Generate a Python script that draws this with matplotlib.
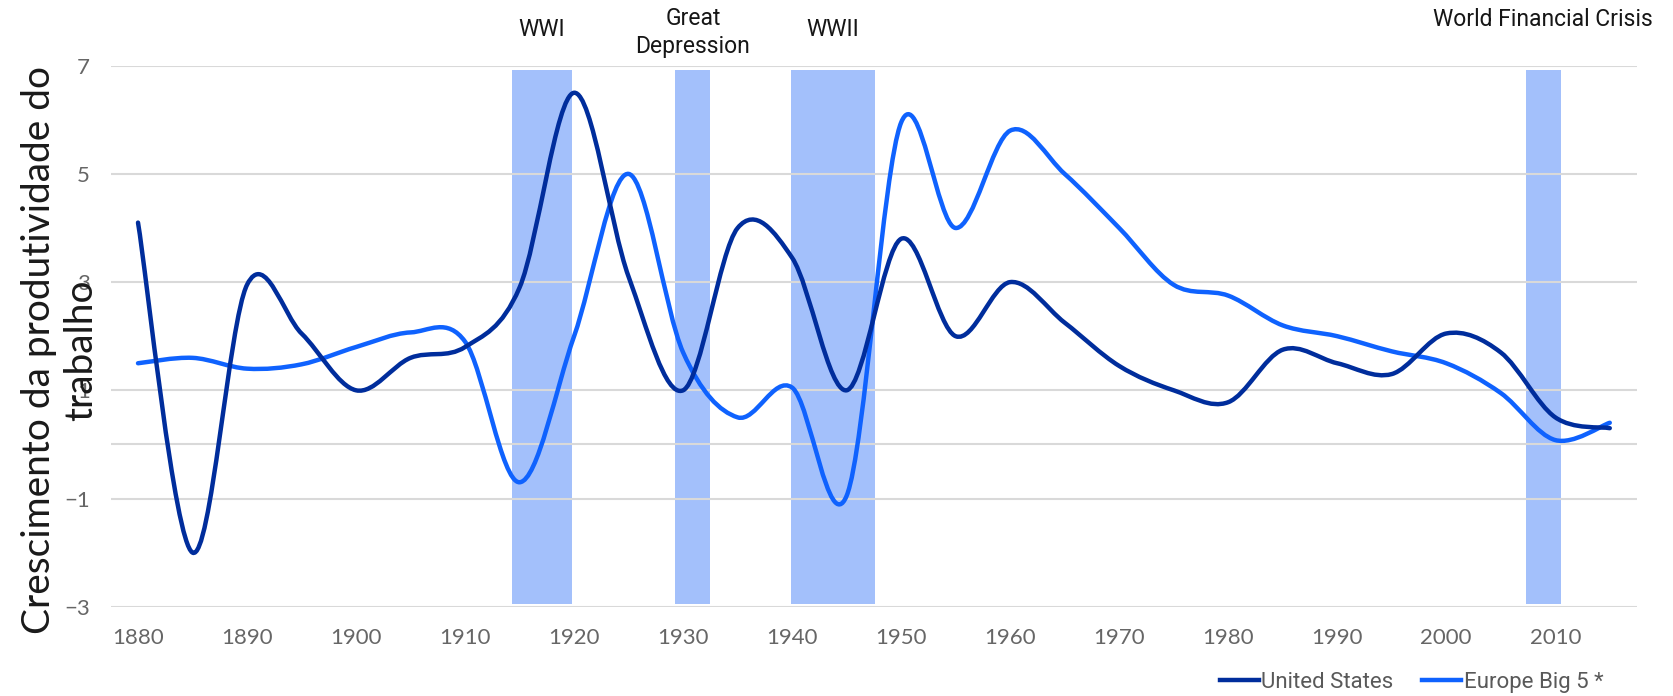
import matplotlib
matplotlib.use("Agg")
import matplotlib.pyplot as plt
from matplotlib.path import Path
from matplotlib.patches import PathPatch
from matplotlib.lines import Line2D

# dados (pontos a cada 5 anos)
anos = [1880, 1885, 1890, 1895, 1900, 1905, 1910, 1915, 1920, 1925, 1930, 1935, 1940, 1945,
        1950, 1955, 1960, 1965, 1970, 1975, 1980, 1985, 1990, 1995, 2000, 2005, 2010, 2015]
estados_unidos = [4.1, -2.0, 2.95, 2.05, 1.0, 1.6, 1.8, 2.9, 6.5, 3.1, 1.0, 4.0, 3.45, 1.0,
                  3.8, 2.0, 3.0, 2.25, 1.45, 1.0, 0.78, 1.75, 1.5, 1.3, 2.05, 1.7, 0.5, 0.3]
europa_big5 = [1.5, 1.6, 1.4, 1.48, 1.8, 2.07, 1.9, -0.7, 2.0, 5.0, 1.7, 0.5, 1.05, -0.95,
               5.95, 4.0, 5.8, 5.0, 4.0, 2.95, 2.75, 2.2, 2.0, 1.72, 1.5, 0.95, 0.08, 0.4]

# periodos de crise
eventos = ["WWI", "Great\nDepression", "WWII", "World Financial Crisis"]
inicio_evento = [1914.3, 1929.3, 1939.9, 2007.3]
fim_evento = [1919.8, 1932.5, 1947.6, 2010.5]
altura_texto = [7.66, 7.61, 7.66, 7.86]

plt.rcParams['font.family'] = ['Lato', 'DejaVu Sans']


def curva_suave(xs, ys):
    # suavizado tipo Excel: bezier cubica com pontos de controle de Catmull-Rom
    pts = list(zip(xs, ys))
    verts = [pts[0]]
    codes = [Path.MOVETO]
    n = len(pts)
    for i in range(n - 1):
        p0 = pts[i - 1] if i > 0 else pts[i]
        p1 = pts[i]
        p2 = pts[i + 1]
        p3 = pts[i + 2] if i + 2 < n else pts[i + 1]
        c1 = (p1[0] + (p2[0] - p0[0]) / 6, p1[1] + (p2[1] - p0[1]) / 6)
        c2 = (p2[0] - (p3[0] - p1[0]) / 6, p2[1] - (p3[1] - p1[1]) / 6)
        verts += [c1, c2, p2]
        codes += [Path.CURVE4] * 3
    return Path(verts, codes)


fig = plt.figure(figsize=(16.73, 6.96), dpi=100)
ax = fig.add_axes([0.0662, 0.1283, 0.9123, 0.7773])

cor_grade = '#d9d9d9'
ax.set_axisbelow(True)
ax.grid(axis='y', color=cor_grade, lw=1.5)
ax.axhline(0, color=cor_grade, lw=1.5, zorder=0.5)

# faixas das crises
for ini, fim in zip(inicio_evento, fim_evento):
    ax.bar((ini + fim) / 2, 9.87, width=fim - ini, bottom=-2.95, color='#a3c0fb', zorder=0.3)

cor_eua = '#002d9c'
cor_eur = '#0f62fe'
ax.add_patch(PathPatch(curva_suave(anos, estados_unidos), fill=False, edgecolor=cor_eua,
                       lw=3.2, capstyle='round', joinstyle='round', zorder=3))
ax.add_patch(PathPatch(curva_suave(anos, europa_big5), fill=False, edgecolor=cor_eur,
                       lw=3.2, capstyle='round', joinstyle='round', zorder=2))

for nome, ini, fim, yt in zip(eventos, inicio_evento, fim_evento, altura_texto):
    ax.text((ini + fim) / 2, yt, nome, ha='center', va='center', fontsize=16.5,
            family=['Roboto', 'DejaVu Sans'], color='#161616',
            linespacing=1.3, clip_on=False)

ax.set_xlim(1877.5, 2017.5)
ax.set_ylim(-3, 7)
ax.set_xticks(range(1880, 2011, 10))
ax.set_yticks([-3, -1, 1, 3, 5, 7])
ax.tick_params(axis='both', length=0, labelsize=16, labelcolor='#666666')
ax.tick_params(axis='x', pad=15)
ax.tick_params(axis='y', pad=15)
for s in ax.spines.values():
    s.set_visible(False)

fig.text(0.036, 0.497, "Crescimento da produtividade do\ntrabalho", rotation=90,
         ha='center', va='center', multialignment='center', fontsize=28,
         color='#1a1a1a', linespacing=1.2)

handles = [Line2D([], [], color=cor_eua, lw=3.2), Line2D([], [], color=cor_eur, lw=3.2)]
fig.legend(handles, ["United States", "Europe Big 5 *"], loc='center left',
           bbox_to_anchor=(0.729, 0.019), ncol=2, frameon=False, handlelength=1.75,
           handletextpad=0.12, columnspacing=1.3, borderpad=0, borderaxespad=0,
           prop={'family': ['Roboto', 'DejaVu Sans'], 'size': 16},
           labelcolor='#595959')

fig.savefig("out.png", dpi=100)
